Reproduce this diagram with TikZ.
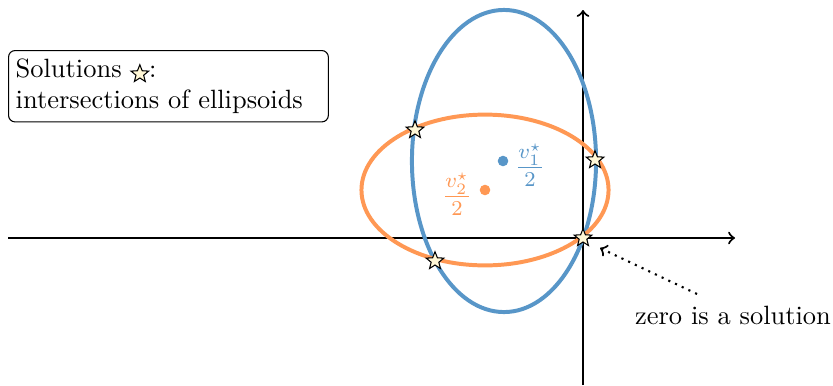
\documentclass[tikz,border=0pt]{standalone}
\usepackage{amsmath}
\usetikzlibrary{shapes.geometric}
\definecolor{eblue}{RGB}{88,150,200}
\definecolor{eorange}{RGB}{255,152,84}
\definecolor{starfill}{RGB}{255,247,214}
\begin{document}
\begin{tikzpicture}[x=0.378pt,y=-0.378pt,
  solstar/.style={star,star points=5,star point ratio=2.3,minimum size=7pt,inner sep=0pt,draw=black,line width=0.4pt,fill=starfill,sharp corners},
  axis/.style={line width=0.8pt,->},
  ell/.style={line width=1.5pt},
  dotc/.style={circle,inner sep=0pt,minimum size=4pt},
  flabel/.style={font=\large,inner sep=0pt}]
\useasboundingbox (0,0) rectangle (833,385);
% axes
\coordinate (xl) at (8,238);
\coordinate (xr) at (735,238);
\coordinate (yb) at (583,385);
\coordinate (yt) at (583,10);
\draw[axis] (xl) -- (xr);
\draw[axis] (yb) -- (yt);
% ellipses
\draw[ell,eblue] (504,161) ellipse [x radius=34.8pt, y radius=57.1pt];
\draw[ell,eorange] (485,190) ellipse [x radius=46.7pt, y radius=28.5pt];
% centres
\node[dotc,fill=eblue] (c1) at (503,161) {};
\node[dotc,fill=eorange] (c2) at (485,190) {};
\node[flabel,text=eblue] (l1) at (530,165) {$\frac{v_1^\star}{2}$};
\node[flabel,text=eorange] (l2) at (457,194) {$\frac{v_2^\star}{2}$};
% stars
\node[solstar] (s1) at (415,130) {};
\node[solstar] (s2) at (595,160) {};
\node[solstar] (s3) at (583,238) {};
\node[solstar] (s4) at (435,261) {};
% box
\node[draw,rounded corners=2.5pt,line width=0.4pt,anchor=north west,align=left,text width=115.5pt,inner xsep=2.7pt,inner ysep=3pt] (box) at (8,50)
  {Solutions \tikz[baseline=-0.6ex,x=1cm,y=1cm]\node[solstar]{};:\\intersections of ellipsoids};
% zero label
\node (zero) at (733,315) {zero is a solution};
\coordinate (zs) at (697,294);
\coordinate (zt) at (600,248);
\draw[dotted,line width=0.8pt,->] (zs) -- (zt);
\end{tikzpicture}
\end{document}
